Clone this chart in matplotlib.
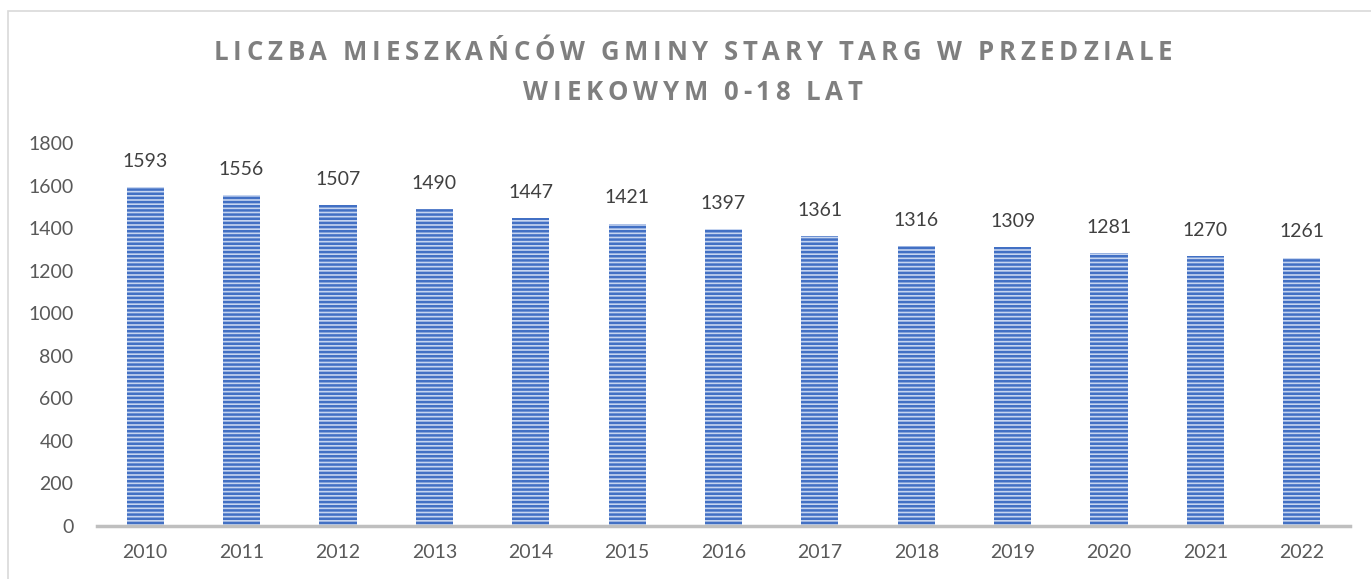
import matplotlib
matplotlib.use("Agg")
import matplotlib.pyplot as plt
from matplotlib.patches import Rectangle

# ─── Data ─────────────────────────────────────────────────────────────────────
years = ["2010", "2011", "2012", "2013", "2014", "2015", "2016",
         "2017", "2018", "2019", "2020", "2021", "2022"]
counts = [1593, 1556, 1507, 1490, 1447, 1421, 1397, 1361, 1316, 1309, 1281, 1270, 1261]
title_lines = ["LICZBA MIESZKAŃCÓW GMINY STARY TARG W PRZEDZIALE",
               "WIEKOWYM 0-18 LAT"]
yticks = list(range(0, 1801, 200))

W, H = 1371, 579
plt.rcParams["font.family"] = ["Lato", "DejaVu Sans"]
plt.rcParams["hatch.linewidth"] = 1.8

fig = plt.figure(figsize=(W / 100, H / 100), dpi=100)
ax = fig.add_axes([97 / W, 1 - 526 / H, (1350 - 97) / W, (526 - 143) / H])

ax.bar(range(len(years)), counts, width=0.385,
       color="#c6d5f0", edgecolor="#4270c4", hatch="----", linewidth=0)

for i, v in enumerate(counts):
    ax.annotate(str(v), (i, v), xytext=(0, 18.5), textcoords="offset points",
                ha="center", va="center", fontsize=14, color="#404040")

ax.set_xlim(-0.5, len(years) - 0.5)
ax.set_ylim(0, 1800)
ax.set_yticks(yticks)
ax.set_xticks(range(len(years)))
ax.set_xticklabels(years)
ax.tick_params(axis="both", length=0, labelsize=14, labelcolor="#595959")
ax.tick_params(axis="x", pad=13)
ax.tick_params(axis="y", pad=17)
for side in ["top", "right", "left"]:
    ax.spines[side].set_visible(False)
ax.spines["bottom"].set_color("#bfbfbf")
ax.spines["bottom"].set_linewidth(2.5)

# chart frame (left and top edges visible)
fig.patches.append(Rectangle((8 / W, -0.1), 1.2, 1 - 11 / H + 0.1,
                             transform=fig.transFigure, fill=False,
                             edgecolor="#d9d9d9", linewidth=1.2))

# title with letter spacing, drawn glyph by glyph
fig.canvas.draw()
renderer = fig.canvas.get_renderer()
tfont = dict(fontsize=18.5, fontweight="bold", family=["Open Sans", "DejaVu Sans"])


def glyph_widths(line):
    out = []
    for ch in line:
        if ch == " ":
            out.append(6.0)
            continue
        t = fig.text(0, 0, ch, **tfont)
        out.append(t.get_window_extent(renderer).width)
        t.remove()
    return out


w1 = glyph_widths(title_lines[0])
spacing = (959 - sum(w1)) / (len(title_lines[0]) - 1)
for line, yc in zip(title_lines, [52, 92]):
    widths = glyph_widths(line)
    total = sum(widths) + spacing * (len(line) - 1)
    x = 693 - total / 2
    for ch, w in zip(line, widths):
        if ch != " ":
            fig.text(x / W, 1 - yc / H, ch, color="#7f7f7f",
                     ha="left", va="center", **tfont)
        x += w + spacing

fig.savefig("out.png", dpi=100)
